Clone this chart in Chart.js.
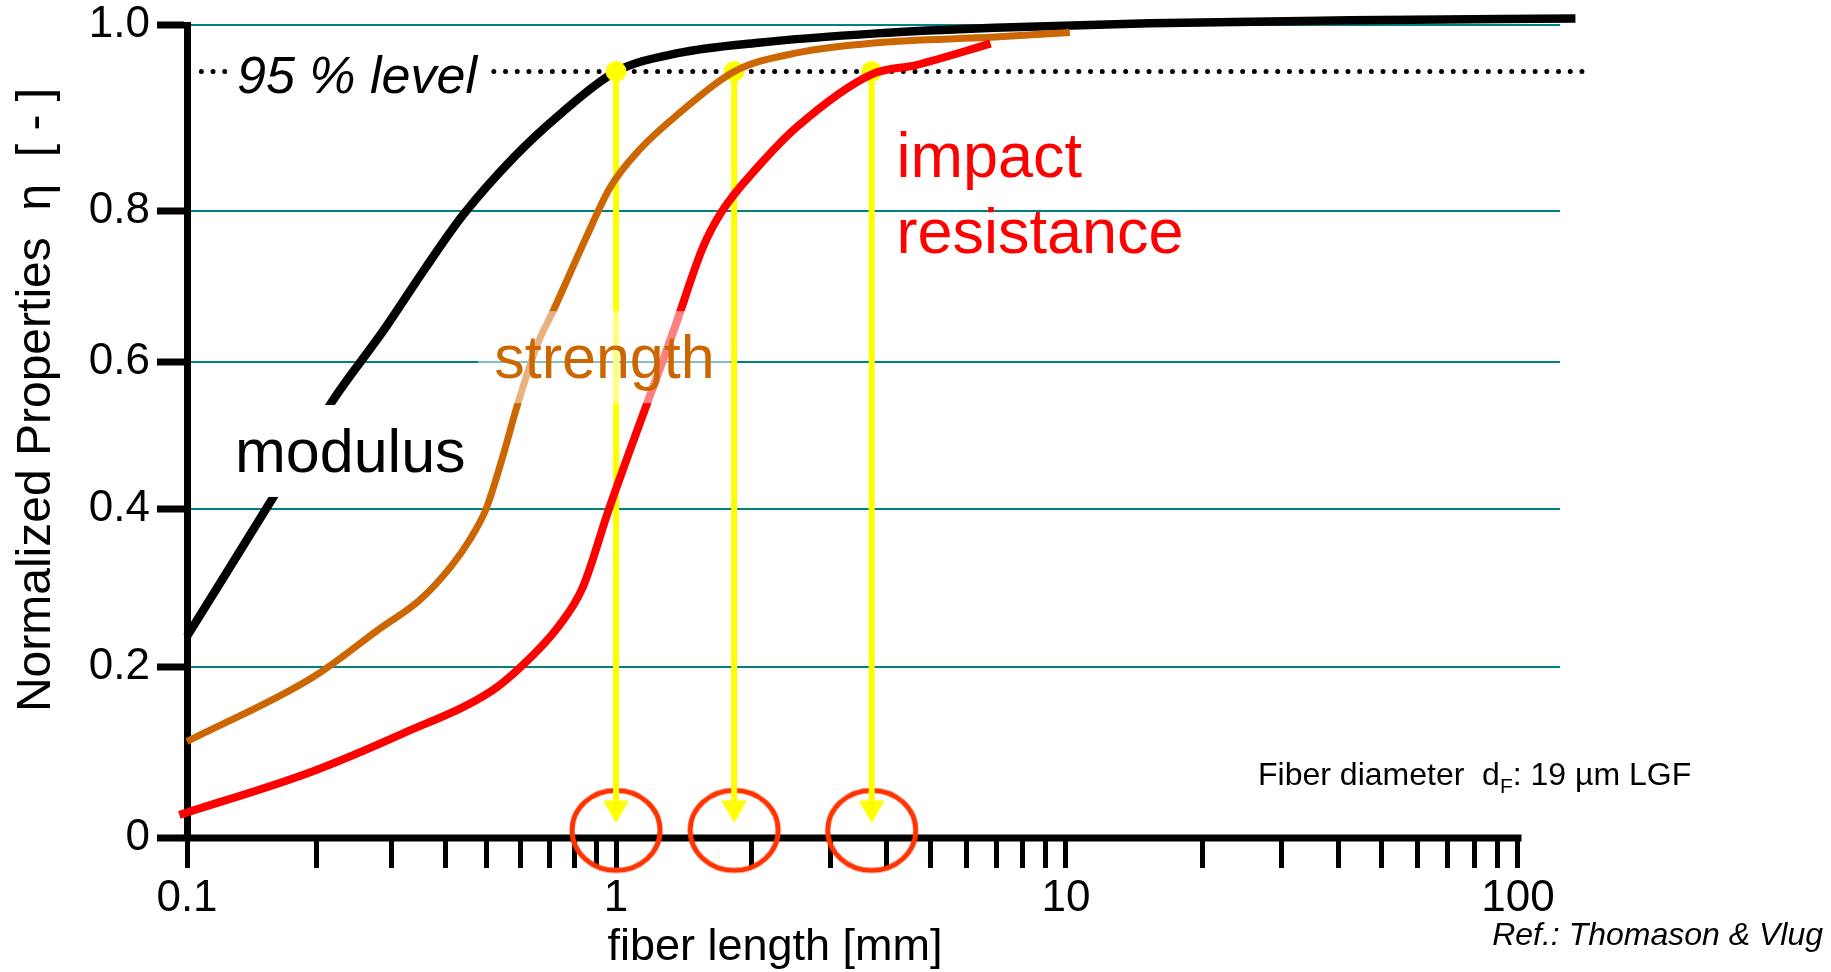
<!DOCTYPE html>
<html lang="en">
<head>
<meta charset="utf-8">
<title>Normalized properties vs. fiber length</title>
<script src="https://cdn.jsdelivr.net/npm/chart.js@4.4.1/dist/chart.umd.min.js"></script>
<style>
  html, body { margin: 0; padding: 0; background: #fff; }
  #wrap { width: 1831px; height: 972px; position: relative; }
</style>
</head>
<body>
<div id="wrap"><canvas id="fiberChart"></canvas></div>
<script>
// ============================================================
// Normalized properties of LGF vs. fiber length (after Thomason & Vlug)
// ============================================================

const FONT = '"Liberation Sans", Arial, Helvetica, sans-serif';

// ---------- data: fiber length [mm] / normalized property η ----------
const MODULUS_LEN = [0.1, 0.159, 0.218, 0.29, 0.36, 0.44, 0.578, 0.744, 1.0, 1.38, 2.07, 3.8, 6.95, 15.3, 42.5, 134];
const MODULUS_ETA = [0.239, 0.416, 0.546, 0.645, 0.725, 0.795, 0.858, 0.905, 0.95, 0.970, 0.981, 0.991, 0.997, 1.002, 1.005, 1.007];

const STRENGTH_LEN = [0.1, 0.196, 0.282, 0.349, 0.412, 0.455, 0.498, 0.542, 0.591, 0.658, 0.713, 0.847, 0.97, 1.127, 1.38, 1.83, 2.52, 3.8, 6.95, 10.2];
const STRENGTH_ETA = [0.113, 0.188, 0.249, 0.285, 0.327, 0.36, 0.40, 0.467, 0.544, 0.625, 0.667, 0.762, 0.826, 0.866, 0.905, 0.95, 0.970, 0.981, 0.987, 0.992];

const IMPACT_LEN = [0.096, 0.196, 0.317, 0.512, 0.604, 0.733, 0.835, 0.963, 1.35, 1.56, 1.72, 2.07, 2.53, 3.7, 4.64, 6.8];
const IMPACT_ETA = [0.027, 0.078, 0.122, 0.172, 0.202, 0.251, 0.30, 0.40, 0.645, 0.752, 0.80, 0.848, 0.891, 0.947, 0.957, 0.98];

// 95 % level and the fiber lengths where each curve reaches it
const LEVEL_ETA = 0.95;
const LEVEL_LEN = [0.108, 141];
const CRITICAL_LEN = [1.0, 1.83, 3.7];
const ARROW_TIP_ETA = 0.035;
const MARK_ETA = 0.009;

// ---------- axes ----------
const X_TICKS = [0.1, 0.2, 0.3, 0.4, 0.5, 0.6, 0.7, 0.8, 0.9, 1, 2, 3, 4, 5, 6, 7, 8, 9, 10, 20, 30, 40, 50, 60, 70, 80, 90, 100];
const X_TICK_LABELS = ["0.1", "1", "10", "100"];
const Y_TICKS = [0, 0.2, 0.4, 0.6, 0.8, 1.0];
const Y_TICK_LABELS = ["0", "0.2", "0.4", "0.6", "0.8", "1.0"];

// the original axes are drawn by hand: spacing of decades and of η ticks is not uniform
const X_DECADES = [-1, 0, 1, 2];
const X_DECADE_FRAC = [0, 0.3125, 0.6402, 0.9694];
const Y_TICK_FRAC = [0, 0.210, 0.405, 0.586, 0.771, 1.0];

const zip = (xs, ys) => xs.map((x, i) => ({ x, y: ys[i] }));

// ---------- piecewise linear mapping (extrapolates past the ends) ----------
function piecewise(v, from, to) {
  let i = 0;
  while (i < from.length - 2 && v > from[i + 1]) i++;
  const t = (v - from[i]) / (from[i + 1] - from[i]);
  return to[i] + t * (to[i + 1] - to[i]);
}

class ProfileScale extends Chart.LinearScale {
  static id = "profile";
  static defaults = {};
  getPixelForValue(value) {
    if (value === null || value === undefined || isNaN(value)) return NaN;
    return this.getPixelForDecimal(piecewise(value, Y_TICKS, Y_TICK_FRAC));
  }
  getValueForPixel(pixel) {
    return piecewise(this.getDecimalForPixel(pixel), Y_TICK_FRAC, Y_TICKS);
  }
}

class DecadeScale extends Chart.LogarithmicScale {
  static id = "decade";
  static defaults = {};
  getPixelForValue(value) {
    if (value === null || value === undefined || isNaN(value) || value <= 0) return NaN;
    return this.getPixelForDecimal(piecewise(Math.log10(value), X_DECADES, X_DECADE_FRAC));
  }
  getValueForPixel(pixel) {
    return Math.pow(10, piecewise(this.getDecimalForPixel(pixel), X_DECADE_FRAC, X_DECADES));
  }
}
Chart.register(ProfileScale, DecadeScale);

Chart.defaults.font.family = FONT;
Chart.defaults.color = "#000";

// ---------- red ellipse marker ----------
function ellipseMarker() {
  const c = document.createElement("canvas");
  c.width = 100;
  c.height = 92;
  const g = c.getContext("2d");
  g.strokeStyle = "#FF3300";
  g.lineWidth = 5;
  g.beginPath();
  g.ellipse(50, 46, 44, 40, 0, 0, Math.PI * 2);
  g.stroke();
  return c;
}

// ---------- text annotations (anchored in data coordinates, baseline) ----------
const LABELS = [
  { text: "95 % level", x: 0.1308, y: 0.927, font: `italic 52px ${FONT}`, color: "#000", bg: "#fff", padX: 10, padY: 3 },
  { text: "modulus", x: 0.1294, y: 0.450, font: `61px ${FONT}`, color: "#000", bg: "#fff", padX: 10, padY: 12 },
  { text: "strength", x: 0.52, y: 0.5775, font: `61px ${FONT}`, color: "#CC6600", bg: "rgba(255,255,255,0.5)", padX: 16, padY: 12 },
  { text: "impact", x: 4.2, y: 0.8366, font: `63px ${FONT}`, color: "#FF0000" },
  { text: "resistance", x: 4.2, y: 0.7444, font: `63px ${FONT}`, color: "#FF0000" }
];
const NOTE_POS = { x: 26.6, y: 0.062 };
const NOTE_RUNS = [["Fiber diameter  d", false], ["F", true], [": 19 \u00b5m LGF", false]];
const X_TITLE = "fiber length [mm]";
const Y_TITLE = "Normalized Properties  \u03b7  [ - ]";
const SOURCE = "Ref.: Thomason & Vlug";

const annotationPlugin = {
  id: "fiberAnnotations",
  beforeDatasetsDraw(chart) {
    // x axis line, stops at 100 mm like the original
    const { ctx, scales } = chart;
    const y0 = scales.y.getPixelForValue(0);
    ctx.save();
    ctx.strokeStyle = "#000";
    ctx.lineWidth = 7;
    ctx.beginPath();
    ctx.moveTo(chart.chartArea.left - 3.5, y0);
    ctx.lineTo(scales.x.getPixelForValue(100) + 3.5, y0);
    ctx.stroke();
    ctx.restore();
  },
  afterDatasetsDraw(chart) {
    const { ctx, scales } = chart;
    ctx.save();
    ctx.textAlign = "left";
    ctx.textBaseline = "alphabetic";
    LABELS.forEach((lab) => {
      const px = scales.x.getPixelForValue(lab.x);
      const py = scales.y.getPixelForValue(lab.y);
      ctx.font = lab.font;
      const m = ctx.measureText(lab.text);
      if (lab.bg) {
        ctx.fillStyle = lab.bg;
        ctx.fillRect(
          px - lab.padX,
          py - m.fontBoundingBoxAscent - lab.padY,
          m.width + lab.padX * 2,
          m.fontBoundingBoxAscent + m.fontBoundingBoxDescent + lab.padY * 2
        );
      }
      ctx.fillStyle = lab.color;
      ctx.fillText(lab.text, px, py);
    });

    // fiber diameter note with subscript
    let nx = scales.x.getPixelForValue(NOTE_POS.x);
    const ny = scales.y.getPixelForValue(NOTE_POS.y);
    ctx.fillStyle = "#000";
    NOTE_RUNS.forEach(([t, sub]) => {
      ctx.font = sub ? `21px ${FONT}` : `32px ${FONT}`;
      ctx.fillText(t, nx, ny + (sub ? 8 : 0));
      nx += ctx.measureText(t).width;
    });
    ctx.restore();
  },
  afterDraw(chart) {
    const { ctx, chartArea } = chart;
    ctx.save();
    ctx.fillStyle = "#000";
    ctx.textBaseline = "alphabetic";

    // x axis title
    ctx.font = `45px ${FONT}`;
    ctx.textAlign = "center";
    ctx.fillText(X_TITLE, chartArea.left + 588, chart.height - 12);

    // y axis title
    ctx.save();
    ctx.translate(50, chartArea.top + 375);
    ctx.rotate(-Math.PI / 2);
    ctx.font = `48px ${FONT}`;
    ctx.fillText(Y_TITLE, 0, 0);
    ctx.restore();

    // source
    ctx.font = `italic 32px ${FONT}`;
    ctx.textAlign = "right";
    ctx.fillText(SOURCE, chart.width - 8, chart.height - 27);
    ctx.restore();
  }
};

// ---------- datasets ----------
const arrowSets = CRITICAL_LEN.map((len) => ({
  label: `critical ${len}`,
  data: [{ x: len, y: LEVEL_ETA }, { x: len, y: ARROW_TIP_ETA }],
  borderColor: "#FFFF00",
  backgroundColor: "#FFFF00",
  borderWidth: 6,
  pointStyle: ["circle", "triangle"],
  pointRotation: [0, 180],
  pointRadius: [10, 14],
  pointBackgroundColor: "#FFFF00",
  pointBorderColor: "#FFFF00",
  pointBorderWidth: 1,
  clip: false,
  order: 3
}));

const datasets = [
  {
    label: "95 % level",
    data: LEVEL_LEN.map((x) => ({ x, y: LEVEL_ETA })),
    borderColor: "#000",
    borderWidth: 5,
    borderDash: [0, 11.7],
    borderCapStyle: "round",
    pointRadius: 0,
    clip: false,
    order: 5
  },
  {
    label: "modulus",
    data: zip(MODULUS_LEN, MODULUS_ETA),
    borderColor: "#000",
    borderWidth: 8.5,
    pointRadius: 0,
    cubicInterpolationMode: "monotone",
    clip: false,
    order: 4
  },
  {
    label: "marks",
    data: CRITICAL_LEN.map((x) => ({ x, y: MARK_ETA })),
    showLine: false,
    pointStyle: ellipseMarker(),
    pointRadius: 44,
    clip: false,
    order: 3.5
  },
  ...arrowSets,
  {
    label: "strength",
    data: zip(STRENGTH_LEN, STRENGTH_ETA),
    borderColor: "#CC6600",
    borderWidth: 7,
    pointRadius: 0,
    cubicInterpolationMode: "monotone",
    clip: false,
    order: 2
  },
  {
    label: "impact resistance",
    data: zip(IMPACT_LEN, IMPACT_ETA),
    borderColor: "#FF0000",
    borderWidth: 8,
    pointRadius: 0,
    cubicInterpolationMode: "monotone",
    clip: false,
    order: 1
  }
];

// ---------- chart ----------
new Chart(document.getElementById("fiberChart"), {
  type: "line",
  data: { datasets },
  options: {
    responsive: true,
    maintainAspectRatio: false,
    animation: false,
    layout: { autoPadding: false, padding: { top: 25, right: 271, left: 0, bottom: 0 } },
    plugins: { legend: { display: false }, tooltip: { enabled: false } },
    scales: {
      x: {
        type: "decade",
        min: 0.1,
        max: 124,
        afterBuildTicks: (scale) => { scale.ticks = X_TICKS.map((v) => ({ value: v })); },
        afterFit: (scale) => {
          scale.height = 134;
          scale.paddingLeft = 0;
          scale.paddingRight = 0;
        },
        border: { display: false },
        grid: {
          drawOnChartArea: false,
          drawTicks: true,
          tickLength: 30,
          tickWidth: 5,
          tickColor: "#000"
        },
        ticks: {
          autoSkip: false,
          maxRotation: 0,
          minRotation: 0,
          padding: 4,
          color: "#000",
          font: { size: 44 },
          callback: (value) => (X_TICK_LABELS.includes(String(value)) ? String(value) : "")
        }
      },
      y: {
        type: "profile",
        min: 0,
        max: 1,
        afterBuildTicks: (scale) => { scale.ticks = Y_TICKS.map((v) => ({ value: v })); },
        afterFit: (scale) => {
          scale.width = 187;
          scale.paddingTop = 0;
          scale.paddingBottom = 0;
        },
        border: { display: true, color: "#000", width: 7 },
        grid: {
          color: (c) => (c.tick && c.tick.value === 0 ? "rgba(0,0,0,0)" : "#008080"),
          lineWidth: 2,
          drawTicks: true,
          tickLength: 30,
          tickWidth: 7,
          tickColor: "#000"
        },
        ticks: {
          padding: 7,
          color: "#000",
          font: { size: 44 },
          callback: (value, index) => Y_TICK_LABELS[index]
        }
      }
    }
  },
  plugins: [annotationPlugin]
});
</script>
</body>
</html>
